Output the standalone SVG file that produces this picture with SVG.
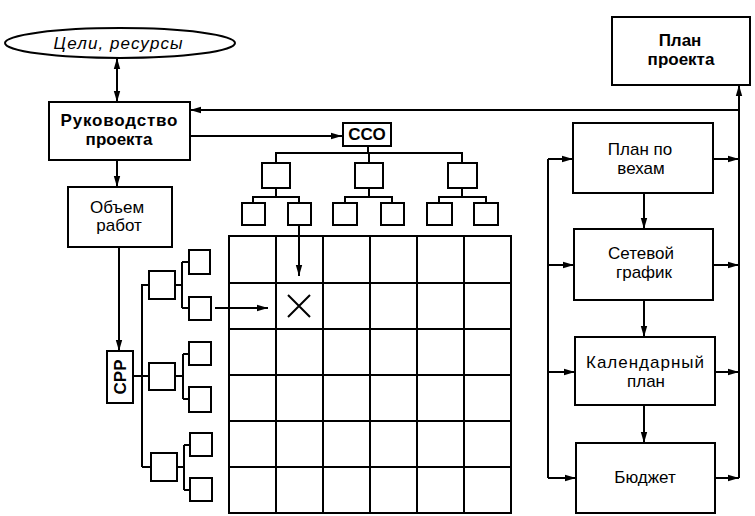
<svg xmlns="http://www.w3.org/2000/svg" width="755" height="516" viewBox="0 0 755 516">
<defs>
<marker id="ah" markerUnits="userSpaceOnUse" markerWidth="12" markerHeight="8" refX="11" refY="4" orient="auto-start-reverse">
<path d="M0,0.8 L11,4 L0,7.2 Z" fill="#000"/>
</marker>
</defs>
<style>
.b{fill:#fff;stroke:#000;stroke-width:2}
.g{fill:none;stroke:#000;stroke-width:2}
.l{fill:none;stroke:#000;stroke-width:2}
.a{fill:none;stroke:#000;stroke-width:2;marker-end:url(#ah)}
.t{font-family:"Liberation Sans",Arial,sans-serif;font-size:17px;fill:#000;text-anchor:middle}
.bd{font-weight:bold;font-size:17px}
</style>
<rect width="755" height="516" fill="#fff"/>
<g id="goals">
<ellipse class="b" cx="120" cy="43" rx="115" ry="15"/>
<text class="t" x="118" y="49" font-style="italic" font-size="19" textLength="129">Цели, ресурсы</text>
</g>
<g id="management">
<rect class="b" x="49" y="102" width="141" height="58"/>
<text class="t bd" x="119" y="126" textLength="117">Руководство</text>
<text class="t bd" x="119" y="145">проекта</text>
</g>
<g id="scope">
<rect class="b" x="68" y="187" width="104" height="60"/>
<text class="t" x="117" y="213" font-size="14">Объем</text>
<text class="t" x="119" y="231" font-size="14">работ</text>
</g>
<g id="plan">
<rect class="b" x="612" y="17" width="138" height="68"/>
<text class="t bd" x="680" y="46">План</text>
<text class="t bd" x="681" y="65">проекта</text>
</g>
<g id="milestones">
<rect class="b" x="573" y="123" width="140" height="70"/>
<text class="t" x="640" y="155">План по</text>
<text class="t" x="641" y="174">вехам</text>
</g>
<g id="network">
<rect class="b" x="574" y="229" width="139" height="71"/>
<text class="t" x="641" y="259">Сетевой</text>
<text class="t" x="644" y="278">график</text>
</g>
<g id="calendar">
<rect class="b" x="575" y="337" width="140" height="68"/>
<text class="t" x="645" y="368" textLength="118">Календарный</text>
<text class="t" x="646" y="387">план</text>
</g>
<g id="budget">
<rect class="b" x="576" y="443" width="139" height="70"/>
<text class="t" x="645" y="483">Бюджет</text>
</g>
<g id="wbs">
<rect class="b" x="343" y="123" width="48" height="23"/>
<text class="t bd" x="367" y="140" font-size="16">ССО</text>
<rect class="b" x="262" y="163" width="28" height="25"/>
<rect class="b" x="355" y="163" width="28" height="25"/>
<rect class="b" x="448" y="163" width="29" height="25"/>
<rect class="b" x="242" y="203" width="23" height="22"/>
<rect class="b" x="288" y="203" width="23" height="22"/>
<rect class="b" x="333" y="203" width="24" height="22"/>
<rect class="b" x="381" y="203" width="23" height="22"/>
<rect class="b" x="427" y="203" width="25" height="22"/>
<rect class="b" x="474" y="203" width="24" height="22"/>
</g>
<g id="obs">
<rect class="b" x="107" y="351" width="26" height="52"/>
<text class="t bd" font-size="16" transform="translate(126,377) rotate(-90)" x="0" y="0">СРР</text>
<rect class="b" x="149" y="271" width="26" height="28"/>
<rect class="b" x="149" y="363" width="26" height="27"/>
<rect class="b" x="151" y="453" width="26" height="28"/>
<rect class="b" x="189" y="250" width="21" height="24"/>
<rect class="b" x="189" y="297" width="22" height="23"/>
<rect class="b" x="189" y="342" width="22" height="23"/>
<rect class="b" x="189" y="387" width="22" height="25"/>
<rect class="b" x="190" y="433" width="22" height="23"/>
<rect class="b" x="190" y="478" width="22" height="23"/>
</g>
<g id="matrix">
<rect class="g" x="229" y="236" width="282" height="277"/>
<path class="l" d="M276,236 V513 M323,236 V513 M370,236 V513 M417,236 V513 M464,236 V513"/>
<path class="l" d="M229,283 H511 M229,329 H511 M229,375 H511 M229,421 H511 M229,467 H511"/>
<path class="l" d="M288,295 L310,317 M310,295 L288,317"/>
</g>
<g id="connectors">
<path class="a" d="M117,58 V102" style="marker-start:url(#ah)"/>
<path class="a" d="M117,160 V187"/>
<path class="a" d="M119,247 V351"/>
<path class="a" d="M739,110 H190"/>
<path class="a" d="M190,136 H342"/>
<path class="a" d="M739,478 V85"/>
<path class="l" d="M548,159 V478"/>
<path class="a" d="M548,159 H573"/>
<path class="a" d="M548,265 H574"/>
<path class="a" d="M548,372 H575"/>
<path class="a" d="M548,478 H576"/>
<path class="a" d="M713,159 H739"/>
<path class="a" d="M713,265 H739"/>
<path class="a" d="M715,372 H739"/>
<path class="a" d="M715,478 H739"/>
<path class="a" d="M644,193 V229"/>
<path class="a" d="M644,300 V337"/>
<path class="a" d="M644,405 V443"/>
<path class="l" d="M368,146 V153 M276,163 V153 H462 V163 M369,153 V163"/>
<path class="l" d="M276,188 V197 M253,203 V197 H299 V203"/>
<path class="l" d="M369,188 V197 M345,203 V197 H392 V203"/>
<path class="l" d="M462,188 V197 M439,203 V197 H486 V203"/>
<path class="a" d="M299,225 V276"/>
<path class="l" d="M133,376 H149 M142,284 V467 M142,285 H149 M142,467 H151"/>
<path class="l" d="M175,285 H182 M182,262 V308 M182,262 H189 M182,308 H189"/>
<path class="l" d="M175,376 H183 M183,354 V399 M183,354 H189 M183,399 H189"/>
<path class="l" d="M177,467 H184 M184,445 V490 M184,445 H190 M184,490 H190"/>
<path class="a" d="M215,308 H268"/>
</g>
</svg>
